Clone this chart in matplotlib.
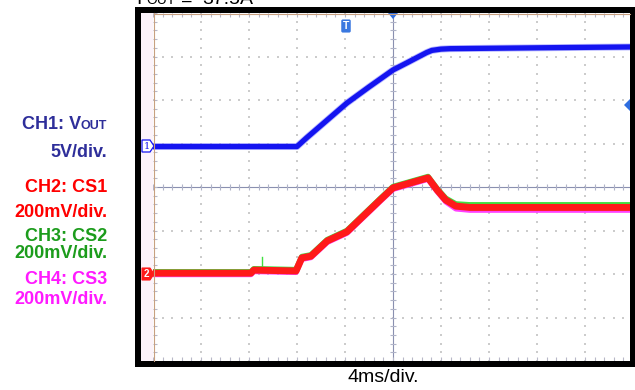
import numpy as np
import matplotlib
matplotlib.use("Agg")
import matplotlib.pyplot as plt
from matplotlib.patches import Rectangle, Polygon

plt.rcParams['font.family'] = ['Liberation Sans', 'DejaVu Sans']

# --- trace data (x in divisions 0..10, y in divisions 0..8) ---
ch1_x = [0, 3.0, 3.2, 4.04, 4.5, 5.0, 5.3, 5.56, 5.7, 5.81, 6.0, 6.19, 8.0, 10]
ch1_y = [4.93, 4.93, 5.13, 5.93, 6.30, 6.69, 6.86, 7.01, 7.09, 7.14, 7.17, 7.18, 7.20, 7.22]

ch2_x = [0, 2.04, 2.10, 2.98, 3.10, 3.29, 3.63, 4.04, 4.73, 5.0, 5.35, 5.73, 5.92, 6.10, 6.31, 6.60, 10]
ch2_y = [2.02, 2.02, 2.09, 2.07, 2.37, 2.41, 2.76, 2.97, 3.70, 3.98, 4.09, 4.21, 3.93, 3.70, 3.56, 3.53, 3.53]

ch3_x = [0, 2.04, 2.10, 2.98, 3.10, 3.29, 3.63, 4.04, 4.73, 5.0, 5.35, 5.73, 5.92, 6.10, 6.31, 6.60, 10]
ch3_y = [2.05, 2.05, 2.12, 2.10, 2.40, 2.44, 2.79, 3.00, 3.73, 4.01, 4.12, 4.24, 3.96, 3.74, 3.61, 3.59, 3.59]
spike_x = [2.27, 2.27]
spike_y = [2.08, 2.39]

ch4_x = [0, 2.04, 2.10, 2.98, 3.10, 3.29, 3.63, 4.04, 4.73, 5.0, 5.35, 5.73, 5.92, 6.10, 6.31, 6.60, 10]
ch4_y = [1.99, 1.99, 2.06, 2.04, 2.34, 2.38, 2.73, 2.94, 3.67, 3.95, 4.06, 4.18, 3.90, 3.66, 3.50, 3.47, 3.47]

ch_labels = [("CH1: V", "#2e2e9a"), ("5V/div.", "#2e2e9a"),
             ("CH2: CS1", "#ff0000"), ("200mV/div.", "#ff0000"),
             ("CH3: CS2", "#1c9c1c"), ("200mV/div.", "#1c9c1c"),
             ("CH4: CS3", "#ff1aff"), ("200mV/div.", "#ff1aff")]
label_y = [125, 153, 187, 213, 237, 254, 279, 300]

W, H = 635, 390


def fx(x):
    return x / W


def fy(y):
    return 1 - y / H


fig = plt.figure(figsize=(W / 100, H / 100), dpi=100)
fig.patch.set_facecolor('white')

# plot area : 10 x 8 divisions, 48 x 43.5 px
ax = fig.add_axes([fx(153), fy(361), 480 / W, 348 / H])
ax.set_xlim(0, 10)
ax.set_ylim(0, 8)
ax.axis('off')

# dotted grid
gx, gy = [], []
for i in range(1, 10):
    if i == 5:
        continue
    for k in range(0, 41):
        gx.append(i)
        gy.append(k / 5)
for j in range(1, 8):
    if j == 4:
        continue
    for k in range(0, 51):
        gx.append(k / 5)
        gy.append(j)
ax.scatter(gx, gy, s=1.8, marker='s', color='#cccccc', linewidths=0, zorder=1)

# center lines with ticks
ax.axhline(4, color='#8a90b0', lw=0.8, zorder=1)
ax.axvline(5, color='#8a90b0', lw=0.8, zorder=1)
tk = np.arange(0, 10.01, 0.2)
ax.scatter(tk, np.full(len(tk), 4), marker='|', s=20, color='#b0b4c8', linewidths=0.8, zorder=1)
tk = np.arange(0, 8.01, 0.2)
ax.scatter(np.full(len(tk), 5), tk, marker='_', s=20, color='#b0b4c8', linewidths=0.8, zorder=1)
# edge ticks
ax.scatter(np.full(len(tk), 0.04), tk, marker='_', s=6, color='#b8b8c8', linewidths=0.8, zorder=1)
tk = np.arange(0, 10.01, 0.2)
ax.scatter(tk, np.full(len(tk), 7.96), marker='|', s=6, color='#b8b8c8', linewidths=0.8, zorder=1)
ax.scatter(tk, np.full(len(tk), 0.04), marker='|', s=6, color='#b8b8c8', linewidths=0.8, zorder=1)

# traces
ax.plot(ch1_x, ch1_y, color='#8a8aff', lw=5.0, alpha=0.6, zorder=3, solid_joinstyle='round')
ax.plot(ch1_x, ch1_y, color='#1414f0', lw=3.8, zorder=3, solid_joinstyle='round')
ax.plot(ch4_x, ch4_y, color='#ff40ff', lw=4.0, zorder=3, solid_joinstyle='round')
ax.plot(ch3_x, ch3_y, color='#40e040', lw=4.0, zorder=4, solid_joinstyle='round')
ax.plot(spike_x, spike_y, color='#40e040', lw=1.0, zorder=4)
ax.plot(ch2_x, ch2_y, color='#ff1a1a', lw=5.0, zorder=5, solid_joinstyle='round')

# frame around screen
blk = '#000000'
fig.add_artist(Rectangle((fx(141), fy(361)), 12 / W, 348 / H, transform=fig.transFigure, fc='#fcf3fa', ec='none'))
fig.add_artist(Rectangle((fx(135), fy(13)), 495 / W, 6 / H, transform=fig.transFigure, fc=blk, ec='none'))
fig.add_artist(Rectangle((fx(135), fy(367)), 6 / W, 360 / H, transform=fig.transFigure, fc=blk, ec='none'))
fig.add_artist(Rectangle((fx(630), fy(367)), 5 / W, 360 / H, transform=fig.transFigure, fc=blk, ec='none'))
fig.add_artist(Rectangle((fx(135), fy(367)), 500 / W, 6 / H, transform=fig.transFigure, fc=blk, ec='none'))
# tan edge lines
fig.add_artist(plt.Line2D([fx(153.5), fx(153.5)], [fy(13), fy(361)], transform=fig.transFigure, color='#c8a080', lw=0.8))
fig.add_artist(plt.Line2D([fx(153.5), fx(630)], [fy(13.5), fy(13.5)], transform=fig.transFigure, color='#c8a080', lw=0.8))

# channel markers
m1 = [(142, 140), (150, 140), (154, 146), (150, 152), (142, 152)]
fig.add_artist(Polygon([(fx(a), fy(b)) for a, b in m1], closed=True, transform=fig.transFigure,
                       fc='white', ec='#1414f0', lw=0.9))
fig.text(fx(146.5), fy(146.3), "1", color='#1414f0', fontsize=7, ha='center', va='center', family='DejaVu Serif')
m2 = [(142, 268), (150, 268), (154, 274), (150, 280), (142, 280)]
fig.add_artist(Polygon([(fx(a), fy(b)) for a, b in m2], closed=True, transform=fig.transFigure,
                       fc='#ff1a1a', ec='#ff1a1a', lw=0.8))
fig.text(fx(146.5), fy(274.3), "2", color='white', fontsize=7, fontweight='bold', ha='center', va='center')

# trigger markers
fig.text(fx(346), fy(26), "T", color='white', fontsize=7.5, fontweight='bold', ha='center', va='center',
         bbox=dict(boxstyle='round,pad=0.15', fc='#3a78e0', ec='none'))
fig.add_artist(Polygon([(fx(388), fy(13)), (fx(398), fy(13)), (fx(393), fy(19))], closed=True,
                       transform=fig.transFigure, fc='#2f6ee0', ec='none'))
fig.add_artist(Polygon([(fx(630), fy(99)), (fx(630), fy(111)), (fx(624), fy(105))], closed=True,
                       transform=fig.transFigure, fc='#2f6ee0', ec='none'))

# left side channel labels
r = fig.canvas.get_renderer()
for (s, c), yy in zip(ch_labels, label_y):
    if s == "CH1: V":
        t = fig.text(fx(107), fy(yy + 4), "OUT", color=c, fontsize=9, fontweight='bold', ha='right', va='baseline')
        bb = t.get_window_extent(renderer=r)
        fig.text(bb.x0 / W, fy(yy + 4), s, color=c, fontsize=13, fontweight='bold', ha='right', va='baseline')
    else:
        fig.text(fx(107), fy(yy), s, color=c, fontsize=13, fontweight='bold', ha='right', va='center')

# top title (cut off by the edge, as in the scope capture) and time base
fig.text(fx(136), fy(4.5), "I", fontsize=14, ha='left', va='baseline')
fig.text(fx(146), fy(4.5), "OUT", fontsize=10, ha='left', va='baseline')
fig.text(fx(181), fy(4.5), "=", fontsize=14, ha='left', va='baseline')
fig.text(fx(202), fy(4.5), "37.5A", fontsize=14, ha='left', va='baseline')
fig.text(fx(383), fy(377), "4ms/div.", fontsize=14, ha='center', va='center')

fig.savefig("out.png", dpi=100)
